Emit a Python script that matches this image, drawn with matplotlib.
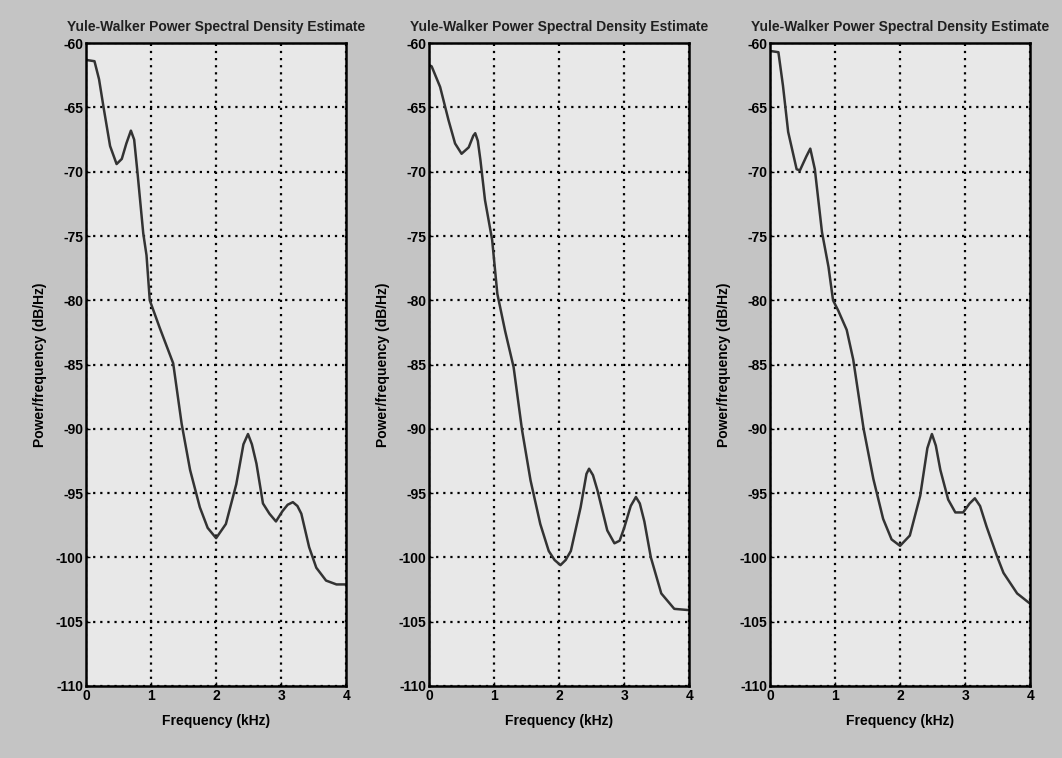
import numpy as np
import matplotlib
matplotlib.use("Agg")
import matplotlib.pyplot as plt

# frequency in kHz, power/frequency in dB/Hz
freq1 = [0.0, 0.13, 0.2, 0.27, 0.37, 0.47, 0.55, 0.62, 0.69, 0.74, 0.79, 0.88, 0.93, 0.98,
         1.13, 1.34, 1.47, 1.6, 1.75, 1.87, 2.0, 2.15, 2.31, 2.42, 2.49, 2.55, 2.62, 2.72,
         2.82, 2.92, 3.02, 3.1, 3.18, 3.25, 3.31, 3.43, 3.54, 3.69, 3.85, 4.0]
psd1 = [-61.3, -61.4, -62.8, -65.0, -68.0, -69.4, -69.0, -67.8, -66.8, -67.5, -70.0, -74.8,
        -76.5, -80.0, -82.1, -84.9, -89.6, -93.2, -96.1, -97.7, -98.5, -97.4, -94.3, -91.2,
        -90.4, -91.2, -92.7, -95.8, -96.6, -97.2, -96.4, -95.9, -95.7, -96.0, -96.6, -99.2,
        -100.8, -101.8, -102.1, -102.1]

freq2 = [0.0, 0.04, 0.17, 0.30, 0.40, 0.50, 0.61, 0.68, 0.71, 0.75, 0.79, 0.86, 0.97, 1.05,
         1.17, 1.30, 1.43, 1.56, 1.71, 1.84, 1.93, 2.02, 2.10, 2.18, 2.33, 2.42, 2.46, 2.52,
         2.59, 2.74, 2.85, 2.93, 3.0, 3.1, 3.18, 3.24, 3.31, 3.41, 3.57, 3.77, 4.0]
psd2 = [-61.7, -61.8, -63.4, -66.0, -67.8, -68.6, -68.1, -67.2, -67.0, -67.6, -69.1, -72.2,
        -75.3, -79.5, -82.4, -85.2, -90.1, -94.0, -97.4, -99.5, -100.2, -100.6, -100.2, -99.5,
        -96.1, -93.5, -93.1, -93.6, -94.8, -97.9, -98.9, -98.7, -97.7, -96.0, -95.3, -95.8,
        -97.2, -100.0, -102.8, -104.0, -104.1]

freq3 = [0.0, 0.13, 0.2, 0.28, 0.41, 0.46, 0.56, 0.62, 0.69, 0.80, 0.90, 0.97, 1.05, 1.18,
         1.28, 1.44, 1.59, 1.74, 1.87, 2.0, 2.15, 2.31, 2.42, 2.49, 2.55, 2.62, 2.74, 2.85,
         2.97, 3.07, 3.15, 3.23, 3.33, 3.49, 3.59, 3.8, 4.0]
psd3 = [-60.6, -60.7, -63.3, -66.9, -69.8, -69.9, -68.8, -68.2, -69.8, -74.7, -77.4, -80.0,
        -80.8, -82.3, -84.6, -90.0, -93.9, -97.0, -98.6, -99.1, -98.3, -95.2, -91.5, -90.4,
        -91.3, -93.2, -95.5, -96.5, -96.5, -95.8, -95.4, -96.0, -97.6, -99.9, -101.2, -102.8,
        -103.6]

xticks = [0, 1, 2, 3, 4]
yticks = [-60, -65, -70, -75, -80, -85, -90, -95, -100, -105, -110]
title = "Yule-Walker Power Spectral Density Estimate"

plt.rcParams['font.family'] = ['Liberation Sans', 'DejaVu Sans']
plt.rcParams['axes.unicode_minus'] = False

fig = plt.figure(figsize=(10.62, 7.58), dpi=100, facecolor="#c4c4c4")
lefts = [0.081, 0.404, 0.725]
data = [(freq1, psd1), (freq2, psd2), (freq3, psd3)]

for left, (f, p) in zip(lefts, data):
    ax = fig.add_axes([left, 0.095, 0.245, 0.848])
    ax.set_facecolor("#e8e8e8")
    ax.plot(f, p, color="#333333", lw=1.8)
    ax.set_xlim(0, 4)
    ax.set_ylim(-110, -60)
    ax.set_xticks(xticks)
    ax.set_yticks(yticks)
    ax.grid(True, color="black", linestyle=(0, (1, 2.2)), linewidth=1.6)
    ax.tick_params(direction="in", length=3, labelsize=10, pad=2, width=1)
    for lab in ax.get_xticklabels() + ax.get_yticklabels():
        lab.set_fontweight("bold")
    for s in ax.spines.values():
        s.set_linewidth(1.8)
    ax.set_title(title, fontsize=10, pad=9, fontweight="bold", color="#202020")
    ax.set_xlabel("Frequency (kHz)", fontsize=10, fontweight="bold", labelpad=8)
    ax.set_ylabel("Power/frequency (dB/Hz)", fontsize=10, fontweight="bold", labelpad=6)

fig.savefig("out.png", dpi=100, facecolor=fig.get_facecolor())
